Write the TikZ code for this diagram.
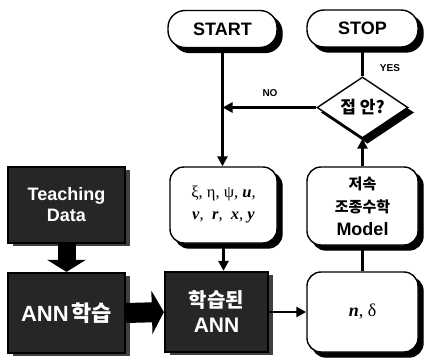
\documentclass[tikz,border=0pt]{standalone}
\usepackage{fontspec}
\setmainfont{Liberation Serif}
\setsansfont{Liberation Sans}
\newfontfamily\kor{Noto Sans CJK KR}
\usetikzlibrary{arrows.meta,shapes.geometric,calc}
\tikzset{
  lw/.style={line width=2.6pt},
  blackshadow/.style={preaction={draw=black, fill=black, line width=1.4pt, transform canvas={shift={(5pt,-5pt)}}}},
  roundbox/.style={blackshadow, draw=black, line width=1.4pt, fill=white, rounded corners=14pt,
    inner sep=0pt, align=center},
  pill/.style={roundbox, rounded corners=17pt},
  darkbox/.style={preaction={fill=black!75, transform canvas={shift={(5pt,-3pt)}}},
    draw=black, line width=2.2pt, fill=black!85, inner sep=0pt, align=center,
    text=white, font=\sffamily\bfseries},
  decision/.style={blackshadow, diamond, draw=black, line width=1.4pt, fill=white, inner sep=0pt, aspect=1.5},
  arr/.style={lw, -{Triangle[length=10pt,width=10pt]}},
  plain/.style={lw},
  blockv/.style={line width=18pt, -{Triangle[length=12pt,width=38pt]}},
  blockh/.style={line width=20pt, -{Triangle[length=12pt,width=43pt]}},
  lab/.style={font=\sffamily\bfseries\fontsize{10}{12}\selectfont},
}
\begin{document}
\begin{tikzpicture}[x=1pt,y=1pt]
\useasboundingbox (0,0) rectangle (426,362);
% terminals
\node[pill, minimum width=109pt, minimum height=37pt, font=\sffamily\bfseries\fontsize{18}{20}\selectfont] (start) at (222.5,333) {START};
\node[pill, minimum width=111pt, minimum height=37pt, font=\sffamily\bfseries\fontsize{18}{20}\selectfont] (stop) at (362.5,333.5) {STOP};
% decision
\node[decision, minimum width=91pt, minimum height=61pt] (dia) at (362.5,254.5) {};
\node[font=\kor\bfseries\fontsize{17}{19}\selectfont] (diatext) at (dia.center) {접 안?};
% process boxes
\node[roundbox, minimum width=107pt, minimum height=76pt, font=\fontsize{16.5}{22}\selectfont] (xi) at (223.5,157)
  {ξ, η, ψ, \textbf{\textit{u}},\\ \textbf{\textit{v}},\ \ \textbf{\textit{r}},\ \ \textbf{\textit{x}}, \textbf{\textit{y}}};
\node[roundbox, minimum width=111pt, minimum height=78pt, font=\fontsize{15}{23}\selectfont] (model) at (362.5,156)
  {{\kor\bfseries 저속}\\{\kor\bfseries 조종수학}\\{\sffamily\bfseries\fontsize{18}{21}\selectfont Model}};
\node[roundbox, minimum width=111pt, minimum height=80pt, font=\fontsize{18}{20}\selectfont] (nd) at (362.5,50)
  {\textbf{\textit{n}}, δ};
% dark boxes
\node[darkbox, minimum width=117pt, minimum height=76pt, font=\sffamily\bfseries\fontsize{18}{21}\selectfont] (td) at (66.5,157) {Teaching\\Data};
\node[darkbox, minimum width=117pt, minimum height=80pt] (ann1) at (66.5,49)
  {{\sffamily\bfseries\fontsize{22}{24}\selectfont ANN}\ {\kor\bfseries\fontsize{22}{24}\selectfont 학습}};
\node[darkbox, minimum width=103pt, minimum height=80pt, font=\fontsize{20}{25}\selectfont] (ann2) at (216.5,50)
  {{\kor\bfseries 학습된}\\{\sffamily\bfseries\fontsize{21}{24}\selectfont ANN}};
% connectors
\draw[arr] (start.south) -- (start.south |- xi.north);
\draw[arr] (xi.south) -- (xi.south |- ann2.north);
\draw[arr] (dia.west) -- (dia.west -| start.south);
\draw[plain] (stop.south) -- (dia.north);
\draw[arr] (model.north) -- (dia.south);
\draw[plain] (nd.north) -- (model.south);
\draw[arr] (ann2.east) -- (ann2.east -| nd.west);
\draw[blockv] (td.south) -- (ann1.north);
\draw[blockh] (ann1.east) -- (ann2.west);
% labels
\node[lab] (yes) at (390,294) {YES};
\node[lab] (no) at (270,269) {NO};
\end{tikzpicture}
\end{document}
